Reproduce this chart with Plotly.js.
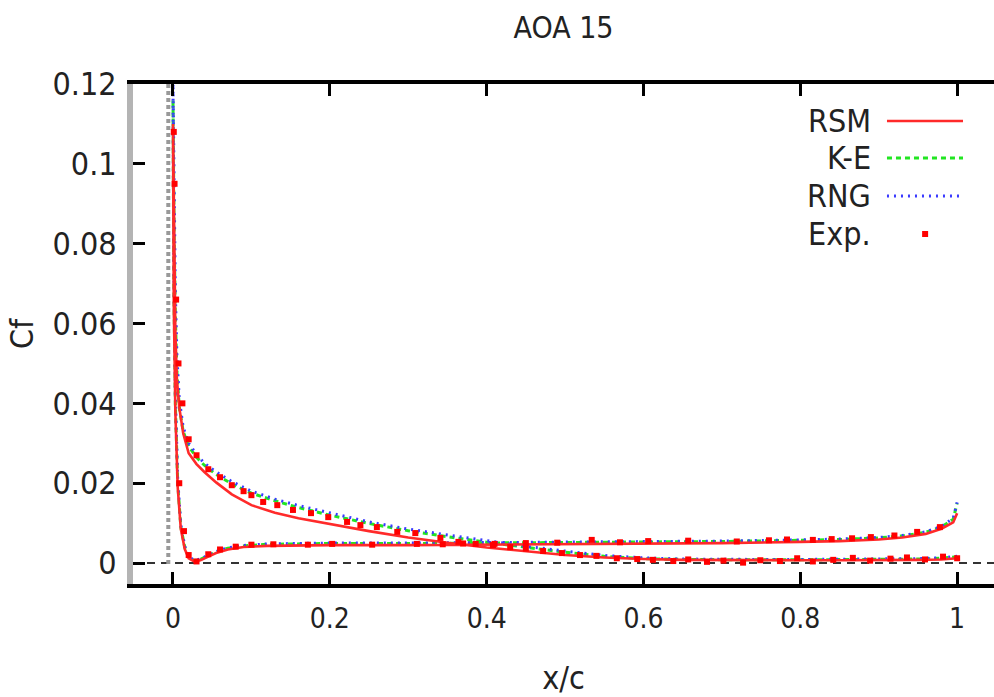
<!DOCTYPE html>
<html>
<head>
<meta charset="utf-8">
<script src="https://cdn.plot.ly/plotly-3.0.1.min.js"></script>
<style>html,body{margin:0;padding:0;background:#fff;}#chart{width:994px;height:697px;}</style>
</head>
<body>
<div id="chart"></div>
<script>
// ---- data ----
// suction (upper) surface, trailing edge -> leading edge
const xUpper = [1.0, 0.98, 0.95, 0.9, 0.85, 0.8, 0.75, 0.7, 0.65, 0.6, 0.55, 0.5, 0.45, 0.4, 0.35, 0.3, 0.25, 0.2, 0.16, 0.13, 0.1, 0.075, 0.055, 0.04, 0.03, 0.02, 0.013, 0.008, 0.005, 0.003, 0.0015, 0.0005, 0];
const rsmUpper = [0.0012, 0.0009, 0.0008, 0.0007, 0.0007, 0.0007, 0.0007, 0.0007, 0.0008, 0.001, 0.0014, 0.002, 0.0029, 0.0039, 0.0051, 0.0064, 0.008, 0.0097, 0.0112, 0.0126, 0.0145, 0.0172, 0.0202, 0.0228, 0.0248, 0.0275, 0.0325, 0.039, 0.046, 0.058, 0.078, 0.098, 0.11];
const keUpper = [0.0016, 0.0012, 0.001, 0.0009, 0.0008, 0.0008, 0.0008, 0.0008, 0.0009, 0.0011, 0.0017, 0.0027, 0.0039, 0.0052, 0.0066, 0.0081, 0.0099, 0.012, 0.0139, 0.0156, 0.0175, 0.0198, 0.0222, 0.0245, 0.0265, 0.0292, 0.033, 0.039, 0.048, 0.062, 0.082, 0.105, 0.116];
const rngUpper = [0.0017, 0.0013, 0.0011, 0.001, 0.0009, 0.0009, 0.0009, 0.0009, 0.001, 0.0013, 0.0019, 0.003, 0.0042, 0.0056, 0.007, 0.0085, 0.0103, 0.0125, 0.0144, 0.016, 0.018, 0.0204, 0.0228, 0.025, 0.0272, 0.03, 0.034, 0.041, 0.052, 0.068, 0.09, 0.112, 0.121];

// pressure (lower) surface, leading edge -> trailing edge
const xLower = [0, 0.001, 0.003, 0.006, 0.01, 0.015, 0.02, 0.027, 0.035, 0.045, 0.055, 0.07, 0.09, 0.12, 0.16, 0.2, 0.3, 0.4, 0.5, 0.6, 0.7, 0.8, 0.85, 0.9, 0.93, 0.96, 0.98, 0.995, 1.0];
const rsmLower = [0.11, 0.065, 0.038, 0.019, 0.0085, 0.0035, 0.0012, 0.0004, 0.0007, 0.0016, 0.0025, 0.0034, 0.004, 0.0043, 0.0044, 0.0045, 0.0045, 0.0046, 0.0047, 0.0049, 0.005, 0.0053, 0.0055, 0.0059, 0.0064, 0.0073, 0.0086, 0.0102, 0.0125];
const keLower = [0.116, 0.07, 0.04, 0.02, 0.009, 0.004, 0.0015, 0.0006, 0.0009, 0.0019, 0.0028, 0.0037, 0.0043, 0.0047, 0.0048, 0.0049, 0.0049, 0.005, 0.0051, 0.0053, 0.0054, 0.0057, 0.0059, 0.0063, 0.0068, 0.0077, 0.009, 0.011, 0.015];
const rngLower = [0.121, 0.075, 0.042, 0.021, 0.0095, 0.0042, 0.0016, 0.0007, 0.001, 0.002, 0.0029, 0.0038, 0.0044, 0.0048, 0.0049, 0.005, 0.005, 0.0051, 0.0052, 0.0054, 0.0055, 0.0058, 0.006, 0.0064, 0.0069, 0.0078, 0.0092, 0.0112, 0.0152];

// experiment
const expUpperX = [0.001, 0.002, 0.004, 0.007, 0.012, 0.02, 0.03, 0.045, 0.06, 0.075, 0.09, 0.1, 0.115, 0.133, 0.153, 0.176, 0.198, 0.222, 0.239, 0.26, 0.286, 0.309, 0.341, 0.364, 0.386, 0.408, 0.43, 0.45, 0.472, 0.496, 0.519, 0.54, 0.566, 0.592, 0.612, 0.638, 0.657, 0.681, 0.702, 0.727, 0.749, 0.774, 0.796, 0.816, 0.842, 0.867, 0.889, 0.915, 0.936, 0.959, 0.982, 1.0];
const expUpperCf = [0.108, 0.095, 0.066, 0.05, 0.04, 0.031, 0.027, 0.0235, 0.0215, 0.0195, 0.018, 0.017, 0.0153, 0.0145, 0.0133, 0.0125, 0.0115, 0.0103, 0.0095, 0.009, 0.0078, 0.0075, 0.0063, 0.0053, 0.0048, 0.0045, 0.004, 0.0036, 0.003, 0.0025, 0.002, 0.0018, 0.0012, 0.001, 0.0008, 0.0005, 0.0009, 0.0003, 0.0006, 0.0001, 0.0007, 0.0005, 0.0012, 0.0004, 0.0008, 0.0013, 0.0006, 0.0011, 0.0014, 0.0009, 0.0016, 0.0012];
const expLowerX = [0.008, 0.014, 0.02, 0.03, 0.045, 0.06, 0.08, 0.1, 0.128, 0.172, 0.203, 0.254, 0.311, 0.344, 0.37, 0.41, 0.45, 0.49, 0.534, 0.57, 0.606, 0.657, 0.719, 0.76, 0.783, 0.816, 0.84, 0.866, 0.89, 0.92, 0.949, 0.978];
const expLowerCf = [0.02, 0.008, 0.002, 0.0004, 0.0022, 0.0034, 0.0041, 0.0046, 0.0047, 0.0046, 0.0048, 0.0046, 0.0048, 0.0047, 0.0049, 0.0048, 0.005, 0.0051, 0.0058, 0.0052, 0.0055, 0.0056, 0.0054, 0.0057, 0.0059, 0.0058, 0.006, 0.0062, 0.0065, 0.0069, 0.0078, 0.009];

const seriesNames = ["RSM", "K-E", "RNG", "Exp."];
const xTicks = [0, 0.2, 0.4, 0.6, 0.8, 1];
const yTicks = [0, 0.02, 0.04, 0.06, 0.08, 0.1, 0.12];
const yTickText = ["0", "0.02", "0.04", "0.06", "0.08", "0.1", "0.12"];
const titleText = "AOA 15";
const xTitle = "x/c";
const yTitle = "Cf";

// ---- styling ----
const FONT = "'Liberation Sans Narrow', 'DejaVu Sans Condensed', 'Liberation Sans', sans-serif";
const colors = {RSM: "#ff2a2a", KE: "#22e622", RNG: "#3a3aff", EXP: "#ff0000"};

const xAll = xUpper.concat(xLower);
const traces = [
  {x: xAll, y: keUpper.concat(keLower), name: seriesNames[1], mode: "lines",
   line: {color: colors.KE, width: 3, dash: "5px,4px"}},
  {x: xAll, y: rngUpper.concat(rngLower), name: seriesNames[2], mode: "lines",
   line: {color: colors.RNG, width: 3, dash: "2px,5px"}},
  {x: xAll, y: rsmUpper.concat(rsmLower), name: seriesNames[0], mode: "lines",
   line: {color: colors.RSM, width: 2.6}},
  {x: expUpperX.concat(expLowerX), y: expUpperCf.concat(expLowerCf), name: seriesNames[3], mode: "markers",
   marker: {color: colors.EXP, size: 6, symbol: "square"}}
];

// custom gnuplot-style legend (text on the left, sample on the right)
const legY = [0.926, 0.852, 0.776, 0.70];
const legTextX = 0.8595, legX0 = 0.8757, legX1 = 0.964, legPtX = 0.92;
const annotations = seriesNames.map((n, i) => ({
  xref: "paper", yref: "paper", x: legTextX, y: legY[i], xanchor: "right", yanchor: "middle",
  text: n, showarrow: false, font: {family: FONT, size: 32, color: "#222"}
}));
const shapes = [
  {type: "line", xref: "paper", yref: "y", x0: 0, x1: 1, y0: 0, y1: 0,
   line: {color: "#333", width: 2, dash: "8px,6px"}, layer: "below"},
  {type: "line", xref: "x", yref: "paper", x0: -0.006, x1: -0.006, y0: 0.04, y1: 1,
   line: {color: "#999", width: 4, dash: "4px,3px"}, layer: "below"},
  {type: "line", xref: "paper", yref: "paper", x0: legX0, x1: legX1, y0: legY[0], y1: legY[0],
   line: {color: colors.RSM, width: 2.6}},
  {type: "line", xref: "paper", yref: "paper", x0: legX0, x1: legX1, y0: legY[1], y1: legY[1],
   line: {color: colors.KE, width: 3, dash: "5px,4px"}},
  {type: "line", xref: "paper", yref: "paper", x0: legX0, x1: legX1, y0: legY[2], y1: legY[2],
   line: {color: colors.RNG, width: 3, dash: "2px,5px"}},
  {type: "rect", xref: "paper", yref: "paper", xsizemode: "pixel", ysizemode: "pixel",
   xanchor: legPtX, yanchor: legY[3], x0: -3, x1: 3, y0: -3, y1: 3,
   fillcolor: colors.EXP, line: {width: 0}}
];

const layout = {
  width: 994, height: 697,
  margin: {l: 133, r: 0, t: 84, b: 113, pad: 0},
  paper_bgcolor: "#fff", plot_bgcolor: "#fff",
  font: {family: FONT, color: "#222"},
  showlegend: false,
  title: {text: titleText, font: {family: FONT, size: 30, color: "#222"},
          x: 0.5, xref: "paper", xanchor: "center", y: 0.96, yref: "container", yanchor: "middle"},
  xaxis: {
    range: [-0.051, 1.047], tickvals: xTicks, ticks: "inside", ticklen: 12, tickwidth: 3, tickcolor: "#000",
    showline: true, linecolor: "#000", linewidth: 4, mirror: "ticks", showgrid: false, zeroline: false,
    tickfont: {family: FONT, size: 28, color: "#222"}, ticklabelstandoff: 6,
    title: {text: xTitle, font: {family: FONT, size: 32, color: "#222"}, standoff: 36}
  },
  yaxis: {
    range: [-0.00525, 0.12], tickvals: yTicks, ticktext: yTickText, ticks: "inside", ticklen: 12, tickwidth: 3,
    tickcolor: "#000", showline: true, linecolor: "#b4b4b4", linewidth: 6, mirror: false,
    showgrid: false, zeroline: false,
    tickfont: {family: FONT, size: 32, color: "#222"}, ticklabelstandoff: 4,
    title: {text: yTitle, font: {family: FONT, size: 32, color: "#222"}, standoff: 11}
  },
  yaxis2: {
    overlaying: "y", side: "right", range: [-0.00525, 0.12], tickvals: yTicks,
    ticks: "inside", ticklen: 12, tickwidth: 3, tickcolor: "#000",
    showticklabels: false, showline: false, showgrid: false, zeroline: false
  },
  annotations: annotations,
  shapes: shapes
};

Plotly.newPlot("chart", traces, layout, {displayModeBar: false, staticPlot: true});
</script>
</body>
</html>
